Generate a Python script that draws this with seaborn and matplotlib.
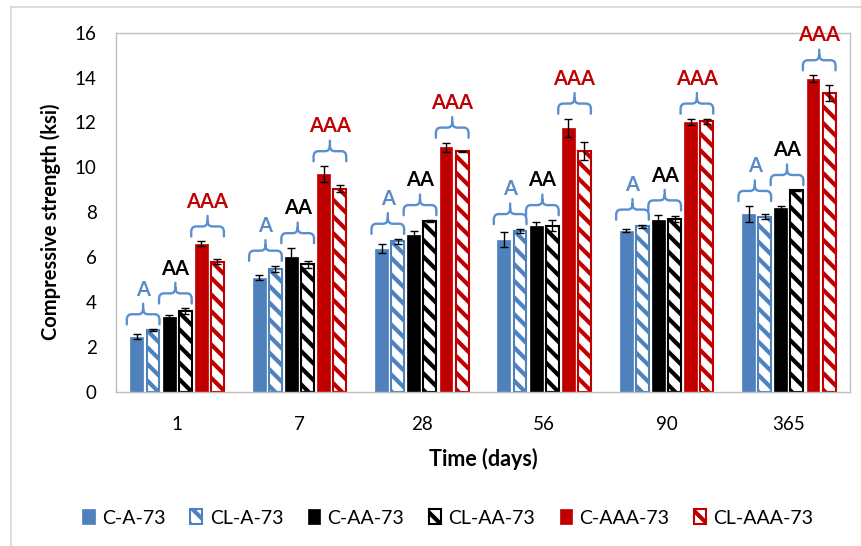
import numpy as np
import pandas as pd
import seaborn as sns
import matplotlib
matplotlib.use("Agg")
import matplotlib.pyplot as plt
from matplotlib.path import Path
from matplotlib.patches import PathPatch, Rectangle

# ---- data -------------------------------------------------------------
ages = ["1", "7", "28", "56", "90", "365"]
series = ["C-A-73", "CL-A-73", "C-AA-73", "CL-AA-73", "C-AAA-73", "CL-AAA-73"]

c_a_73 = [2.46, 5.09, 6.37, 6.77, 7.17, 7.92]
cl_a_73 = [2.76, 5.47, 6.70, 7.17, 7.37, 7.81]
c_aa_73 = [3.36, 6.00, 6.98, 7.41, 7.66, 8.19]
cl_aa_73 = [3.60, 5.69, 7.60, 7.40, 7.70, 8.97]
c_aaa_73 = [6.60, 9.70, 10.90, 11.75, 12.02, 13.95]
cl_aaa_73 = [5.80, 9.05, 10.72, 10.72, 12.05, 13.31]

c_a_73_err = [0.10, 0.10, 0.20, 0.33, 0.07, 0.36]
cl_a_73_err = [0.03, 0.15, 0.12, 0.08, 0.08, 0.13]
c_aa_73_err = [0.05, 0.40, 0.20, 0.17, 0.20, 0.10]
cl_aa_73_err = [0.12, 0.15, 0.05, 0.25, 0.12, 0.02]
c_aaa_73_err = [0.10, 0.35, 0.20, 0.42, 0.13, 0.15]
cl_aaa_73_err = [0.10, 0.15, 0.03, 0.39, 0.12, 0.35]

group_labels = ["A", "AA", "AAA"]

values = [c_a_73, cl_a_73, c_aa_73, cl_aa_73, c_aaa_73, cl_aaa_73]
errors = [c_a_73_err, cl_a_73_err, c_aa_73_err, cl_aa_73_err, c_aaa_73_err, cl_aaa_73_err]

# ---- style ------------------------------------------------------------
BLUE = "#4F81BD"
RED = "#C00000"
BLACK = "#000000"
BRACE = "#5B8ED0"
series_colors = [BLUE, BLUE, BLACK, BLACK, RED, RED]
hatched = [False, True, False, True, False, True]
label_colors = ["#5A8AC8", BLACK, RED]

sns.set_theme(style="white")
plt.rcParams["font.family"] = ["Lato", "DejaVu Sans"]
plt.rcParams["hatch.linewidth"] = 3.0

df = pd.DataFrame(
    [(a, s, v) for s, vals in zip(series, values) for a, v in zip(ages, vals)],
    columns=["age", "series", "strength"],
)

fig = plt.figure(figsize=(8.62, 5.46), dpi=100)
ax = fig.add_axes([0.1346, 0.2821, 0.8515, 0.6582])

sns.barplot(
    data=df, x="age", y="strength", hue="series",
    order=ages, hue_order=series, palette=series_colors,
    width=0.79, gap=0.2, errorbar=None, legend=False, ax=ax,
)
bars = list(ax.containers)

# bar styling: solid fills vs white bars with diagonal stripes
for cont, col, h in zip(bars, series_colors, hatched):
    for p in cont.patches:
        if h:
            p.set_facecolor("white")
            p.set_edgecolor(col)
            p.set_linewidth(1.5)
            p.set_hatch("\\\\")
            if hasattr(p, "set_hatch_linewidth"):
                p.set_hatch_linewidth(3.0)
        else:
            p.set_facecolor(col)
            p.set_edgecolor(col)
            p.set_linewidth(0.5)

# error bars at bar centres
for cont, errs in zip(bars, errors):
    xs = [p.get_x() + p.get_width() / 2 for p in cont.patches]
    ys = [p.get_height() for p in cont.patches]
    ax.errorbar(xs, ys, yerr=errs, fmt="none", ecolor="black",
                elinewidth=1.0, capsize=3, capthick=1.0, zorder=5)


def draw_brace(ax, x0, x1, y0, color):
    """Curly brace opening downward, tip pointing up."""
    h = 0.45
    rx = 0.04
    ry = 0.25
    xm = (x0 + x1) / 2
    y1 = y0 + h
    y2 = y1 + h + 0.02
    verts = [
        (x0, y0), (x0, y1 - ry), (x0, y1), (x0 + rx, y1),
        (xm - rx, y1), (xm, y1), (xm, y1 + ry), (xm, y2),
        (xm, y1 + ry), (xm, y1), (xm + rx, y1),
        (x1 - rx, y1), (x1, y1), (x1, y1 - ry), (x1, y0),
    ]
    codes = [
        Path.MOVETO, Path.LINETO, Path.CURVE3, Path.CURVE3,
        Path.LINETO, Path.CURVE3, Path.CURVE3, Path.LINETO,
        Path.MOVETO, Path.CURVE3, Path.CURVE3,
        Path.LINETO, Path.CURVE3, Path.CURVE3, Path.LINETO,
    ]
    ax.add_patch(PathPatch(Path(verts, codes), facecolor="none",
                           edgecolor=color, lw=1.7, capstyle="round",
                           joinstyle="round", zorder=6))
    return xm, y2


# braces over each pair of bars with their grade labels
for g, (lab, lcol) in enumerate(zip(group_labels, label_colors)):
    left, right = bars[2 * g], bars[2 * g + 1]
    for j in range(len(ages)):
        pl, pr = left.patches[j], right.patches[j]
        top = max(values[2 * g][j] + errors[2 * g][j],
                  values[2 * g + 1][j] + errors[2 * g + 1][j])
        x0 = pl.get_x() - 0.03
        x1 = pr.get_x() + pr.get_width()
        xm, ytip = draw_brace(ax, x0, x1, top + 0.22, BRACE)
        ax.annotate(lab, (xm, ytip), xytext=(0, 3), textcoords="offset points",
                    ha="center", va="bottom", fontsize=14.5, fontweight="bold",
                    color=lcol, zorder=7)

# axes
ax.set_ylim(0, 16)
ax.set_xlim(-0.5, len(ages) - 0.5)
ax.set_yticks(np.arange(0, 17, 2))
ax.tick_params(axis="y", length=0, pad=14, labelsize=13.5, labelcolor="black")
ax.tick_params(axis="x", length=0, pad=17, labelsize=13.5, labelcolor="black")
for sp in ax.spines.values():
    sp.set_visible(True)
    sp.set_color("#BFBFBF")
    sp.set_linewidth(1.0)
ax.grid(False)

ax.set_xlabel("Time (days)", fontsize=15.5, fontweight="bold", color="black")
ax.set_ylabel("Compressive strength (ksi)", fontsize=14.5, fontweight="bold",
              color="black")
ax.xaxis.set_label_coords(0.5, -0.186)
ax.xaxis.label.set_va("center")
ax.yaxis.set_label_coords(-0.0886, 0.475)
ax.yaxis.label.set_va("center")

# legend
handles = [c.patches[0] for c in bars]
fig.legend(handles, series, loc="center", bbox_to_anchor=(448 / 862, 1 - 518 / 546),
           ncol=6, frameon=False, fontsize=14, handlelength=0.62,
           handleheight=0.8, handletextpad=0.4, columnspacing=1.25,
           borderaxespad=0, labelcolor="black")

# chart frame
fig.patches.append(Rectangle((11 / 862, -0.5), 2.0, 0.5 + 1 - 7 / 546,
                             transform=fig.transFigure, fill=False,
                             edgecolor="#D9D9D9", lw=1.3))

fig.savefig("out.png", dpi=100)
